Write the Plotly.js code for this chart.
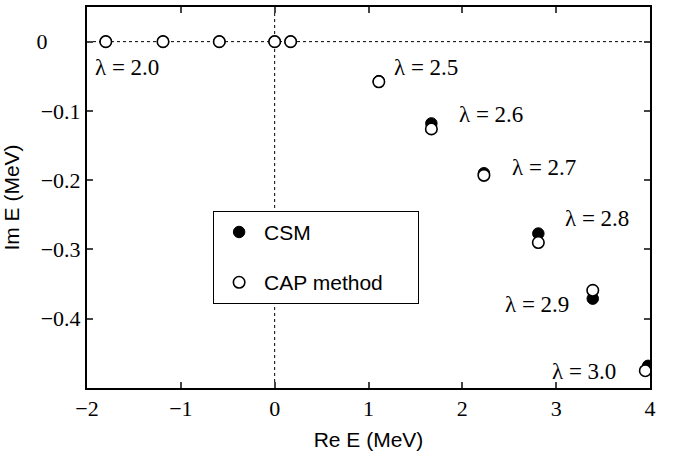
<!DOCTYPE html>
<html>
<head>
<meta charset="utf-8">
<script src="https://cdn.plot.ly/plotly-3.0.1.min.js"></script>
<style>html,body{margin:0;padding:0;background:#fff;}#chart{width:677px;height:455px;}</style>
</head>
<body>
<div id="chart"></div>
<script>
// Data
const csmRe = [-1.80, -1.19, -0.59, 0.00, 0.17, 1.11, 1.67, 2.23, 2.81, 3.39, 3.98];
const csmIm = [0, 0, 0, 0, 0, -0.057, -0.118, -0.190, -0.277, -0.371, -0.468];
const capRe = [-1.80, -1.19, -0.59, 0.00, 0.17, 1.11, 1.67, 2.23, 2.81, 3.39, 3.95];
const capIm = [0, 0, 0, 0, 0, -0.058, -0.126, -0.193, -0.290, -0.359, -0.475];

const lambdaLabels = ['λ = 2.0', 'λ = 2.5', 'λ = 2.6', 'λ = 2.7', 'λ = 2.8', 'λ = 2.9', 'λ = 3.0'];
const lambdaLabelX = [-1.94, 1.25, 1.94, 2.51, 3.075, 2.43, 2.935];
const lambdaLabelY = [-0.038, -0.037, -0.105, -0.181, -0.256, -0.380, -0.476];

const xTickVals = [-2, -1, 0, 1, 2, 3, 4];
const xTickText = ['−2', '−1', '0', '1', '2', '3', '4'];
const yTickVals = [0, -0.1, -0.2, -0.3, -0.4];
const yTickText = ['0\u00a0\u00a0\u00a0\u00a0\u00a0\u00a0', '−0.1', '−0.2', '−0.3', '−0.4'];

const serif = '"Liberation Serif", "Times New Roman", Times, serif';
const sans = '"Liberation Sans", Arial, sans-serif';
const pad = '\u2800';

const traces = [
  {
    x: csmRe, y: csmIm, type: 'scatter', mode: 'markers', name: 'CSM',
    legendgroup: 'a', legendrank: 1,
    marker: {symbol: 'circle', size: 11.5, color: '#000', line: {color: '#000', width: 1}}
  },
  {
    x: capRe, y: capIm, type: 'scatter', mode: 'markers', name: 'CAP method' + pad.repeat(2),
    legendgroup: 'b', legendrank: 2,
    marker: {symbol: 'circle', size: 11.5, color: '#fff', line: {color: '#000', width: 1.6}}
  }
];

const annotations = lambdaLabels.map((t, i) => ({
  x: lambdaLabelX[i], y: lambdaLabelY[i], xref: 'x', yref: 'y',
  text: t, showarrow: false, xanchor: 'left', yanchor: 'middle',
  font: {family: serif, size: 23, color: '#000'}
}));

const layout = {
  width: 677, height: 455,
  margin: {l: 87, r: 27, t: 7, b: 67},
  paper_bgcolor: '#fff', plot_bgcolor: '#fff',
  font: {family: sans, color: '#000'},
  showlegend: true,
  legend: {
    x: 0.224, y: 0.465, xanchor: 'left', yanchor: 'top',
    bgcolor: '#fff', bordercolor: '#000', borderwidth: 1,
    font: {family: sans, size: 21, color: '#000'},
    traceorder: 'grouped', tracegroupgap: 20,
    itemwidth: 40
  },
  xaxis: {
    range: [-2, 4], tickvals: xTickVals, ticktext: xTickText, ticks: 'inside', ticklen: 6, tickwidth: 2,
    showline: true, linewidth: 2, linecolor: '#000', mirror: 'ticks',
    showgrid: false, zeroline: false,
    tickfont: {family: serif, size: 22, color: '#000'},
    title: {text: 'Re E (MeV)', font: {family: sans, size: 21, color: '#000'}, standoff: 12}
  },
  yaxis: {
    range: [-0.5, 0.05], tickvals: yTickVals, ticktext: yTickText, ticks: 'inside', ticklen: 6, tickwidth: 2,
    showline: true, linewidth: 2, linecolor: '#000', mirror: 'ticks',
    showgrid: false, zeroline: false,
    tickfont: {family: serif, size: 22, color: '#000'},
    title: {text: 'Im E (MeV)', font: {family: sans, size: 21, color: '#000'}, standoff: 12}
  },
  shapes: [
    {type: 'line', xref: 'x', yref: 'paper', x0: 0, x1: 0, y0: 0, y1: 1, layer: 'below',
     line: {color: '#000', width: 1, dash: 'dot'}},
    {type: 'line', xref: 'paper', yref: 'y', x0: 0, x1: 1, y0: 0, y1: 0, layer: 'below',
     line: {color: '#000', width: 1, dash: 'dot'}}
  ],
  annotations: annotations
};

Plotly.newPlot('chart', traces, layout, {displayModeBar: false, staticPlot: true});
</script>
</body>
</html>
